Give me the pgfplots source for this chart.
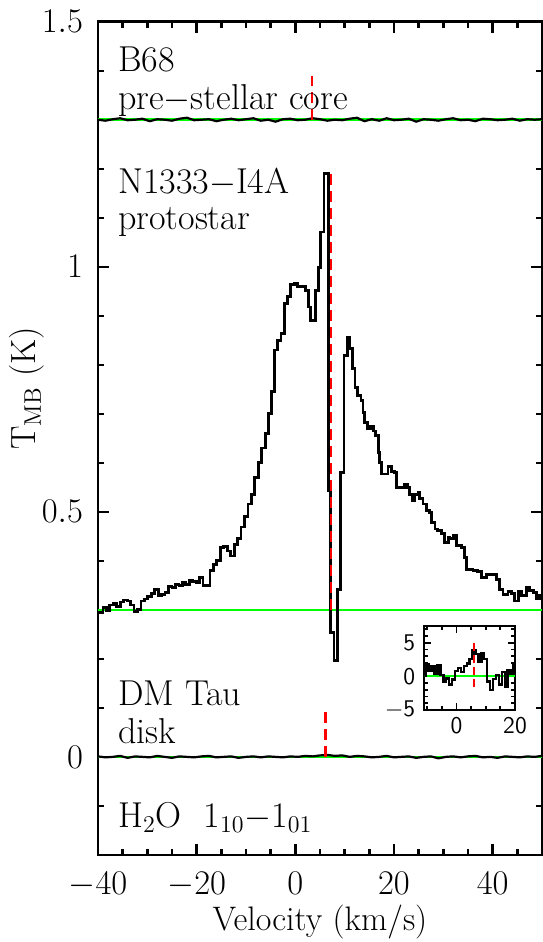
\documentclass[border=0pt]{standalone}
\usepackage{pgfplots}
\pgfplotsset{compat=1.18}
\definecolor{pgreen}{RGB}{0,255,0}
\definecolor{pred}{RGB}{255,0,0}
\begin{document}
\begin{tikzpicture}
\path[use as bounding box] (-49pt,-43.55pt) rectangle (222pt,427.45pt);
\begin{axis}[
  at={(0,0)}, anchor=south west,
  scale only axis, width=222pt, height=416.6pt,
  xmin=-40, xmax=50, ymin=-0.2, ymax=1.5,
  clip mode=individual,
  xtick={-40,-20,0,20,40},
  minor xtick={-35,-30,-25,-15,-10,-5,5,10,15,25,30,35,45},
  ytick={0,0.5,1,1.5},
  minor ytick={-0.1,0.1,0.2,0.3,0.4,0.6,0.7,0.8,0.9,1.1,1.2,1.3,1.4},
  tick align=inside, major tick length=5.5pt, minor tick length=3pt,
  axis line style={line width=1.4pt},
  every tick/.style={black, line width=1.2pt},
  tick label style={font=\fontsize{17.5}{20}\selectfont},
  xticklabel style={yshift=-5pt},
  yticklabel style={xshift=-4pt},
]
% baselines
\addplot[pgreen, line width=1.3pt] coordinates {(-40,1.3) (50,1.3)};
\addplot[pgreen, line width=1.3pt] coordinates {(-40,0.3) (50,0.3)};
\addplot[pgreen, line width=1.3pt] coordinates {(-40,0) (50,0)};
% B68
\addplot[black, line width=1.1pt] coordinates {
(-40,1.300) (-38.5,1.298) (-37,1.301) (-35.5,1.303) (-34,1.299) (-32.5,1.300)
(-31,1.302) (-29.5,1.297) (-28,1.301) (-26.5,1.300) (-25,1.298) (-23.5,1.302)
(-22,1.304) (-20.5,1.299) (-19,1.300) (-17.5,1.301) (-16,1.297) (-14.5,1.300)
(-13,1.302) (-11.5,1.299) (-10,1.301) (-8.5,1.303) (-7,1.298) (-5.5,1.300)
(-4,1.296) (-2.5,1.301) (-1,1.302) (0.5,1.299) (2,1.300) (3.5,1.303)
(5,1.301) (6.5,1.298) (8,1.300) (9.5,1.299) (11,1.302) (12.5,1.304)
(14,1.297) (15.5,1.301) (17,1.298) (18.5,1.303) (20,1.299) (21.5,1.300)
(23,1.302) (24.5,1.296) (26,1.301) (27.5,1.300) (29,1.298) (30.5,1.301)
(32,1.303) (33.5,1.299) (35,1.300) (36.5,1.297) (38,1.302) (39.5,1.301)
(41,1.299) (42.5,1.300) (44,1.302) (45.5,1.298) (47,1.301) (48.5,1.300) (50,1.301)};
% N1333-I4A
\addplot[black, line width=1.4pt, const plot mark left] coordinates {
(-40.0,0.295) (-39.0,0.305) (-38.3,0.298) (-37.6,0.310) (-36.9,0.314) (-36.2,0.306)
(-35.5,0.316) (-34.8,0.320) (-34.1,0.318) (-33.4,0.310) (-32.7,0.296) (-32.0,0.300)
(-31.3,0.318) (-30.6,0.322) (-29.9,0.328) (-29.2,0.334) (-28.5,0.342) (-27.8,0.330)
(-27.1,0.332) (-26.4,0.335) (-25.7,0.348) (-25.0,0.345) (-24.3,0.352) (-23.6,0.350)
(-22.9,0.356) (-22.2,0.352) (-21.5,0.360) (-20.8,0.358) (-20.1,0.356) (-19.4,0.366)
(-18.7,0.350) (-18.0,0.349) (-17.3,0.380) (-16.6,0.392) (-15.9,0.400) (-15.2,0.427)
(-14.5,0.430) (-13.8,0.420) (-13.1,0.410) (-12.4,0.434) (-11.7,0.446) (-11.0,0.469)
(-10.3,0.490) (-9.6,0.516) (-8.9,0.536) (-8.2,0.570) (-7.5,0.600) (-6.8,0.630)
(-6.1,0.660) (-5.4,0.700) (-4.8,0.745) (-4.3,0.830) (-3.6,0.850) (-2.9,0.864)
(-2.25,0.925) (-1.6,0.939) (-0.9,0.963) (-0.2,0.966) (0.4,0.959) (1.4,0.959)
(2.1,0.952) (2.65,0.918) (3.0,0.891) (4.13,0.952) (4.67,0.999) (5.16,1.071)
(5.82,1.190) (6.8,0.544) (7.17,0.253) (7.84,0.196) (8.5,0.342) (9.2,0.580)
(9.86,0.819) (10.53,0.856) (11.0,0.833) (11.53,0.792) (12.1,0.754) (12.6,0.737)
(13.3,0.727) (13.7,0.703) (14.1,0.682) (14.7,0.669) (15.2,0.675) (15.8,0.665)
(16.2,0.655) (16.8,0.621) (17.1,0.600) (17.4,0.577) (18.1,0.577) (18.8,0.593)
(19.5,0.583) (20.1,0.580) (20.5,0.550) (21.5,0.550) (22.2,0.555) (22.8,0.550)
(23.2,0.536) (23.8,0.522) (24.2,0.536) (24.9,0.540) (25.2,0.527) (25.9,0.516)
(26.6,0.503) (27.2,0.499) (27.6,0.478) (28.3,0.465) (28.9,0.462) (29.6,0.455)
(30.3,0.438) (31.0,0.448) (31.3,0.445) (32.0,0.451) (32.7,0.431) (33.7,0.427)
(34.3,0.407) (34.7,0.383) (36.0,0.380) (37.0,0.378) (37.7,0.366) (38.7,0.372)
(40.1,0.372) (40.8,0.362) (41.4,0.342) (42.1,0.331) (43.1,0.338) (43.8,0.333)
(44.5,0.318) (45.2,0.338) (45.8,0.330) (46.9,0.346) (47.5,0.340) (48.2,0.336)
(48.9,0.322) (49.5,0.330) (50.0,0.330)};
% DM Tau
\addplot[black, line width=1.1pt] coordinates {
(-40,0.001) (-38.5,-0.001) (-37,0.000) (-35.5,0.002) (-34,-0.002) (-32.5,0.001)
(-31,0.000) (-29.5,-0.001) (-28,0.002) (-26.5,0.000) (-25,-0.002) (-23.5,0.001)
(-22,0.000) (-20.5,-0.001) (-19,0.001) (-17.5,0.002) (-16,-0.001) (-14.5,0.000)
(-13,0.001) (-11.5,-0.002) (-10,0.000) (-8.5,0.001) (-7,-0.001) (-5.5,0.001)
(-4,0.000) (-2.5,-0.001) (-1,0.001) (0.5,0.000) (2,0.002) (3.5,0.001)
(5,0.003) (6.5,0.004) (8,0.002) (9.5,0.003) (11,0.000) (12.5,0.002)
(14,0.001) (15.5,-0.001) (17,0.000) (18.5,0.002) (20,-0.001) (21.5,0.000)
(23,0.001) (24.5,-0.002) (26,0.000) (27.5,0.001) (29,-0.003) (30.5,0.000)
(32,0.001) (33.5,-0.001) (35,0.001) (36.5,0.002) (38,-0.001) (39.5,0.000)
(41,-0.002) (42.5,0.001) (44,0.000) (45.5,-0.001) (47,0.001) (48.5,0.000) (50,0.002)};
% source velocities
\addplot[pred, line width=1.1pt, dash pattern=on 5.5pt off 3pt] coordinates {(3.4,1.3) (3.4,1.39)};
\addplot[pred, line width=1.1pt, dash pattern=on 5.5pt off 3pt] coordinates {(7.3,0.3) (7.3,1.2)};
\addplot[pred, line width=1.1pt, dash pattern=on 5.5pt off 3pt] coordinates {(6.1,0) (6.1,0.1)};
% labels
\begin{scope}[every node/.style={anchor=base west, inner sep=0pt, font=\fontsize{18}{21}\selectfont}]
\node at (axis cs:-36,1.398) {B68};
\node at (axis cs:-36,1.320) {pre$-$stellar core};
\node at (axis cs:-36,1.150) {N1333$-$I4A};
\node at (axis cs:-36,1.075) {protostar};
\node at (axis cs:-36,0.105) {DM Tau};
\node at (axis cs:-36,0.028) {disk};
\node at (axis cs:-36,-0.144) {H$_2$O\ \ 1$_{10}$$-$1$_{01}$};
\end{scope}
\node[font=\fontsize{17}{20}\selectfont, anchor=center, inner sep=0pt] at (axis description cs:0.5,-0.080) {Velocity (km/s)};
\node[font=\fontsize{17.5}{20}\selectfont, anchor=center, inner sep=0pt, rotate=90] at (axis description cs:-0.16,0.56) {T$_{\mathrm{MB}}$ (K)};
\end{axis}
% inset
\begin{axis}[
  at={(163.15pt,72.5pt)}, anchor=south west,
  scale only axis, width=45.35pt, height=42pt,
  xmin=-11, xmax=20, ymin=-5, ymax=7.5,
  xtick={0,20}, xticklabels={0,20},
  minor xtick={-10,-5,5,10,15},
  ytick={-5,0,5}, yticklabels={$-$5,0,5},
  minor ytick={-4,-3,-2,-1,1,2,3,4,6,7},
  tick align=inside, major tick length=3.5pt, minor tick length=2pt,
  axis line style={line width=1pt},
  every tick/.style={black, line width=0.9pt},
  tick label style={font=\sffamily\fontsize{12}{14}\selectfont},
  yticklabel style={xshift=-1pt},
  axis background/.style={fill=white},
]
\addplot[pgreen, line width=1.2pt] coordinates {(-11,0) (20,0)};
\addplot[black, line width=1.2pt, const plot mark mid] coordinates {
(-11,0.0) (-10,1.8) (-9,0.8) (-8,1.5) (-7,0.3) (-6,1.6) (-5,0.2) (-4,-0.8)
(-3,-0.3) (-2,-1.2) (-1,-0.5) (0,0.8) (1,1.2) (2,0.6) (3,1.5) (4,1.9)
(5,2.6) (6,3.9) (7,3.3) (8,2.2) (9,3.4) (10,2.6) (11,-0.8) (12,-2.0)
(13,-0.4) (14,0.2) (15,-1.2) (16,0.6) (17,-1.6) (18,0.9) (19,0.3) (20,2.0)};
\addplot[pred, line width=0.9pt, dash pattern=on 4pt off 2pt] coordinates {(6,-1.6) (6,5.2)};
\end{axis}
\end{tikzpicture}
\end{document}
